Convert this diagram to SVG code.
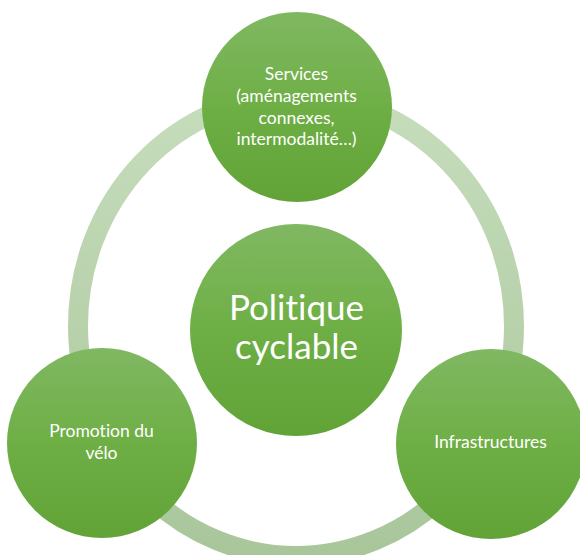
<svg xmlns="http://www.w3.org/2000/svg" width="580" height="555" viewBox="0 0 580 555">
  <defs>
    <linearGradient id="gNode" x1="0" y1="0" x2="0" y2="1">
      <stop offset="0" stop-color="#80b862"/>
      <stop offset="0.5" stop-color="#6eaf45"/>
      <stop offset="1" stop-color="#62a338"/>
    </linearGradient>
    <linearGradient id="gRing" x1="0" y1="0" x2="0" y2="1">
      <stop offset="0" stop-color="#c6ddbc"/>
      <stop offset="1" stop-color="#a9c69b"/>
    </linearGradient>
  </defs>
  <style>
    .node { fill: url(#gNode); }
    .ring { fill: none; stroke: url(#gRing); stroke-width: 20; }
    text { font-family: Lato, "Open Sans", "Liberation Sans", sans-serif; fill: #ffffff; text-anchor: middle; font-variant-ligatures: none; }
    .small { font-size: 17.5px; }
    .big { font-size: 35px; }
  </style>
  <rect width="580" height="555" fill="#ffffff"/>
  <g id="connectors">
    <ellipse class="ring" cx="296" cy="326" rx="218" ry="230"/>
  </g>
  <g id="node-centre">
    <circle class="node" cx="296" cy="330" r="106"/>
    <text class="big" x="296.5" y="320">Politique</text>
    <text class="big" x="296.5" y="359">cyclable</text>
  </g>
  <g id="node-services">
    <circle class="node" cx="297" cy="107" r="95"/>
    <text class="small" x="296.5" y="80">Services</text>
    <text class="small" x="296.5" y="102">(aménagements</text>
    <text class="small" x="296.5" y="123.5">connexes,</text>
    <text class="small" x="296.5" y="145">intermodalité…)</text>
  </g>
  <g id="node-promotion">
    <circle class="node" cx="102" cy="443" r="95"/>
    <text class="small" x="101.5" y="437">Promotion du</text>
    <text class="small" x="101.5" y="458.5">vélo</text>
  </g>
  <g id="node-infrastructures">
    <circle class="node" cx="491" cy="444" r="95"/>
    <text class="small" x="490.5" y="448">Infrastructures</text>
  </g>
</svg>
